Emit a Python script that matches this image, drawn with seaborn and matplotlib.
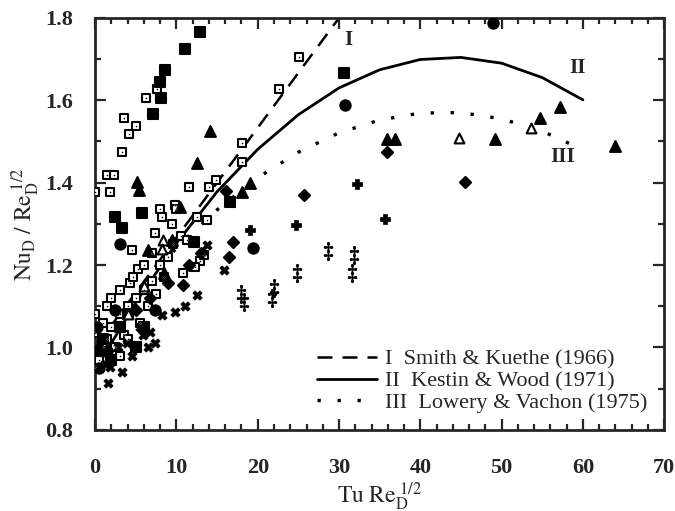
import matplotlib
matplotlib.use("Agg")
import matplotlib.pyplot as plt
from matplotlib.ticker import MultipleLocator
import seaborn as sns

# correlation curves
line1_x = [0, 30]
line1_y = [1.00, 1.80]
line2_x = [0, 5, 10, 15, 20, 25, 30, 35, 40, 45, 50, 55, 60]
line2_y = [0.945, 1.109, 1.253, 1.378, 1.481, 1.565, 1.630, 1.674, 1.699, 1.704, 1.690, 1.655, 1.601]
line3_x = [0, 5, 10, 15, 20, 25, 30, 35, 40, 45, 50, 55, 60]
line3_y = [1.010, 1.133, 1.241, 1.334, 1.412, 1.474, 1.521, 1.552, 1.569, 1.570, 1.555, 1.525, 1.480]
legend_labels = ["I  Smith & Kuethe (1966)", "II  Kestin & Wood (1971)", "III  Lowery & Vachon (1975)"]

# measured points, one group per symbol
open_sq_x = [0.0, 1.8, 1.4, 2.3, 3.3, 4.1, 5.0, 3.5, 6.2, 7.6, 8.0, 8.2, 9.8, 10.0, 9.4, 7.3, 4.5,
             12.5, 13.8, 14.0, 14.9, 18.1, 22.6, 25.1, 5.3, 4.3, 1.5, 0.0, 0.0, 0.0, 10.8, 12.9, 13.4,
             12.3, 1.0, 2.0, 3.0, 4.0, 5.0, 6.0, 7.0, 8.0, 9.0, 2.5, 3.5, 5.5, 6.5, 7.5, 8.5, 1.0, 2.0,
             3.0, 4.6, 6.0, 7.0, 0.5, 1.5, 3.0, 4.0, 9.6, 10.6, 11.3, 18.1, 11.6]
open_sq_y = [1.378, 1.378, 1.419, 1.419, 1.475, 1.518, 1.538, 1.557, 1.605, 1.627, 1.336, 1.317, 1.345,
             1.335, 1.300, 1.278, 1.237, 1.317, 1.310, 1.390, 1.407, 1.497, 1.627, 1.705, 1.190, 1.157,
             1.100, 1.080, 1.035, 0.953, 1.180, 1.210, 1.225, 1.195, 1.000, 1.050, 1.080, 1.100, 1.120,
             1.140, 1.160, 1.200, 1.220, 1.000, 1.030, 1.060, 1.100, 1.130, 1.170, 1.060, 1.120, 1.140,
             1.170, 1.200, 1.230, 0.970, 1.020, 0.980, 1.020, 1.250, 1.270, 1.260, 1.449, 1.390]
fill_sq_x = [12.9, 11.0, 8.6, 8.0, 8.1, 7.1, 2.4, 3.3, 5.8, 30.6, 16.6, 12.1, 5.0, 6.0, 2.0, 4.0,
             1.0, 3.0, 0.3]
fill_sq_y = [1.766, 1.725, 1.674, 1.645, 1.605, 1.567, 1.317, 1.290, 1.327, 1.667, 1.353, 1.256,
             1.000, 1.050, 0.970, 1.080, 1.020, 1.050, 0.990]
circle_x = [49.0, 30.7, 19.4, 3.1, 7.3, 0.5, 1.5, 2.5, 0.2]
circle_y = [1.788, 1.589, 1.242, 1.250, 1.091, 0.950, 0.990, 1.090, 1.050]
tri_x = [14.1, 12.5, 5.1, 5.4, 10.4, 19.0, 18.1, 35.9, 36.9, 49.2, 54.7, 57.2, 64.0, 6.5, 9.5, 8.5]
tri_y = [1.526, 1.448, 1.402, 1.383, 1.340, 1.400, 1.378, 1.506, 1.506, 1.506, 1.557, 1.584, 1.490,
         1.237, 1.260, 1.180]
open_tri_x = [53.6, 44.7, 8.3, 8.2, 6.0, 4.0]
open_tri_y = [1.533, 1.508, 1.260, 1.240, 1.150, 1.080]
diamond_x = [16.1, 25.7, 35.9, 45.5, 16.9, 16.5, 8.9, 10.8, 13.0, 11.5, 5.0, 6.8]
diamond_y = [1.380, 1.370, 1.475, 1.402, 1.256, 1.220, 1.157, 1.152, 1.230, 1.200, 1.090, 1.120]
plus_x = [32.2, 35.6, 19.1, 24.7]
plus_y = [1.397, 1.312, 1.285, 1.298]
dagger_x = [28.6, 31.8, 24.8, 22.0, 18.0, 31.6, 21.8, 18.3]
dagger_y = [1.235, 1.225, 1.180, 1.145, 1.130, 1.180, 1.120, 1.110]
cross_x = [15.9, 13.7, 12.5, 9.8, 8.2, 6.7, 7.3, 6.5, 5.5, 3.3, 1.6, 1.8, 11.0, 4.5, 2.8, 1.2,
           3.9, 5.9]
cross_y = [1.188, 1.249, 1.128, 1.086, 1.079, 1.038, 1.010, 1.000, 1.050, 0.940, 0.914, 0.953,
           1.100, 0.980, 1.000, 0.960, 1.010, 1.030]

sns.set_style("ticks")
plt.rcParams['font.family'] = ['Liberation Serif', 'DejaVu Serif']
plt.rcParams['mathtext.fontset'] = 'stix'

fig = plt.figure(figsize=(6.75, 5.11), dpi=100)
ax = fig.add_axes([0.141, 0.159, 0.843, 0.806])

# curves
sns.lineplot(x=line1_x, y=line1_y, ax=ax, color='black', lw=1.8, dashes=False,
             linestyle=(0, (6, 4)), label=legend_labels[0])
sns.lineplot(x=line2_x, y=line2_y, ax=ax, color='black', lw=2.0, label=legend_labels[1])
sns.lineplot(x=line3_x, y=line3_y, ax=ax, color='black', lw=2.4,
             linestyle=(0, (1, 5)), label=legend_labels[2])


def dots(xs, ys, marker, face, s, lw=1.5):
    sns.scatterplot(x=xs, y=ys, marker=marker, s=s, color=face, edgecolor='black',
                    linewidth=lw, ax=ax, zorder=3, legend=False)


dots(open_sq_x, open_sq_y, 's', 'white', 40)
sns.scatterplot(x=open_sq_x, y=open_sq_y, marker='.', s=6, color='black', ax=ax, zorder=4, legend=False)
dots(fill_sq_x, fill_sq_y, 's', 'black', 45)
dots(circle_x, circle_y, 'o', 'black', 55)
dots(tri_x, tri_y, '^', 'black', 60)
dots(open_tri_x, open_tri_y, '^', 'white', 50)
dots(diamond_x, diamond_y, 'D', 'black', 32)
dots(plus_x, plus_y, 'P', 'black', 50, lw=0.5)
dots(dagger_x, dagger_y, '$‡$', 'black', 170, lw=0.8)
dots(cross_x, cross_y, 'X', 'black', 45, lw=0.5)

# curve labels
ax.text(31.2, 1.747, "I", fontsize=15, fontweight='bold', ha='center', va='center')
ax.text(59.3, 1.679, "II", fontsize=15, fontweight='bold', ha='center', va='center')
ax.text(57.5, 1.463, "III", fontsize=15, fontweight='bold', ha='center', va='center')

ax.set_xlim(0, 70)
ax.set_ylim(0.8, 1.8)
ax.xaxis.set_major_locator(MultipleLocator(10))
ax.xaxis.set_minor_locator(MultipleLocator(2))
ax.yaxis.set_major_locator(MultipleLocator(0.2))
ax.yaxis.set_minor_locator(MultipleLocator(0.1))
ax.tick_params(which='both', direction='in', top=True, right=True, width=1.6, labelsize=16)
ax.tick_params(axis='x', pad=20)
ax.tick_params(axis='y', pad=16)
ax.tick_params(which='major', length=8)
ax.tick_params(which='minor', length=4)
for lab in ax.get_xticklabels() + ax.get_yticklabels():
    lab.set_fontweight('bold')
for sp in ax.spines.values():
    sp.set_linewidth(2)

ax.set_xlabel(r'$\mathrm{Tu\ Re_D^{\ 1/2}}$', fontsize=17, labelpad=2)
ax.set_ylabel(r'$\mathrm{Nu_D\ /\ Re_D^{\ 1/2}}$', fontsize=17, labelpad=2)

ax.legend(loc='lower right', bbox_to_anchor=(1.0, 0.0), frameon=False, fontsize=16,
          handlelength=2.7, labelspacing=0.05, handletextpad=0.35, borderaxespad=0.35)

fig.savefig("out.png", dpi=100)
